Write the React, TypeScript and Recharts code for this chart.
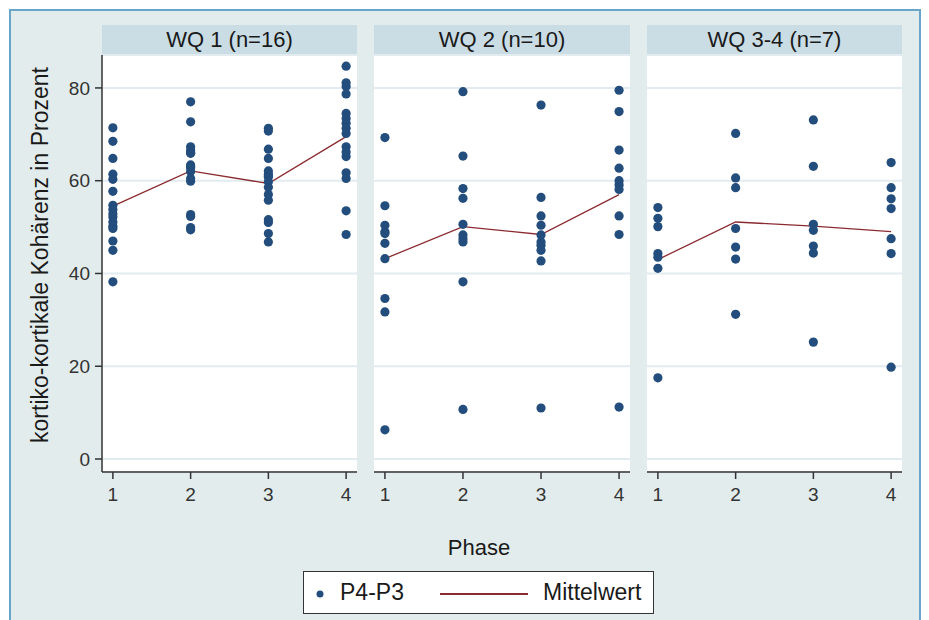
import React from 'react';
import { ComposedChart, Scatter, Line, XAxis, YAxis, CartesianGrid } from 'recharts';

const PHASES = [1, 2, 3, 4];
const Y_TICKS = [0, 20, 40, 60, 80];
const PANEL_TITLES = ['WQ 1 (n=16)', 'WQ 2 (n=10)', 'WQ 3-4 (n=7)'];

// WQ 1 (n=16), P4-P3 per phase
const wq1Phase1 = [71.4, 68.5, 64.8, 61.4, 60.3, 57.7, 54.7, 53.8, 52.9, 52.2, 51.1, 50.2, 49.7, 47.0, 45.0, 38.2];
const wq1Phase2 = [77.0, 72.7, 67.3, 66.5, 66.0, 65.9, 63.4, 63.0, 62.8, 62.0, 60.5, 59.9, 52.7, 52.3, 49.9, 49.4];
const wq1Phase3 = [71.3, 70.7, 66.8, 64.8, 62.1, 61.4, 61.0, 60.8, 59.8, 58.6, 57.0, 55.8, 51.6, 51.0, 48.6, 46.8];
const wq1Phase4 = [84.7, 81.1, 80.3, 78.7, 74.5, 73.4, 72.4, 71.3, 70.2, 67.3, 66.2, 65.2, 61.7, 60.5, 53.5, 48.4];
const wq1Mean = [54.5, 62.1, 59.4, 69.5];

// WQ 2 (n=10)
const wq2Phase1 = [69.3, 54.6, 50.4, 49.0, 48.6, 46.5, 43.2, 34.6, 31.7, 6.3];
const wq2Phase2 = [79.2, 65.3, 58.3, 56.2, 50.6, 48.3, 47.5, 46.8, 38.2, 10.7];
const wq2Phase3 = [76.3, 56.4, 52.4, 50.4, 48.3, 46.8, 46.1, 45.0, 42.7, 11.0];
const wq2Phase4 = [79.5, 74.9, 66.6, 62.7, 60.0, 59.1, 58.1, 52.4, 48.4, 11.2];
const wq2Mean = [43.2, 50.1, 48.4, 57.0];

// WQ 3-4 (n=7)
const wq3Phase1 = [54.2, 51.9, 50.1, 44.3, 43.5, 41.1, 17.5];
const wq3Phase2 = [70.2, 60.6, 58.5, 49.7, 45.7, 43.1, 31.2];
const wq3Phase3 = [73.1, 63.1, 50.6, 49.3, 45.9, 44.4, 25.2];
const wq3Phase4 = [63.9, 58.5, 56.1, 54.0, 47.5, 44.3, 19.8];
const wq3Mean = [43.0, 51.1, 50.2, 49.0];

const PANEL_VALUES = [
  [wq1Phase1, wq1Phase2, wq1Phase3, wq1Phase4],
  [wq2Phase1, wq2Phase2, wq2Phase3, wq2Phase4],
  [wq3Phase1, wq3Phase2, wq3Phase3, wq3Phase4],
];
const PANEL_MEANS = [wq1Mean, wq2Mean, wq3Mean];

const FONT = '"Liberation Sans", Arial, sans-serif';
const DOT = '#234d7c';
const MEAN = '#8b2b30';
const STRIP = '#cadde5';
const GRID = '#e2ecf0';
const TEXT = '#1a1a1a';
const TICK = '#333';

// plot area edges per panel (px)
const PANEL_BOXES = [
  { left: 102, right: 357 },
  { left: 374, right: 630 },
  { left: 647, right: 902 },
];

const Dot = (props: any) => {
  const { cx, cy } = props;
  return <circle cx={cx} cy={cy} r={4.6} fill={DOT} />;
};

const Panel = ({ idx }: { idx: number }) => {
  const box = PANEL_BOXES[idx];
  const first = idx === 0;
  const points = PANEL_VALUES[idx].flatMap((vals, i) => vals.map((v) => ({ x: PHASES[i], y: v })));
  const means = PANEL_MEANS[idx].map((v, i) => ({ x: PHASES[i], y: v }));
  const chartLeft = first ? 0 : box.left;
  const width = box.right - chartLeft;
  return (
    <>
      <div
        style={{
          position: 'absolute',
          left: box.left,
          top: 25,
          width: box.right - box.left,
          height: 29,
          background: STRIP,
          textAlign: 'center',
          fontFamily: FONT,
          fontSize: 22,
          lineHeight: '30px',
          color: TEXT,
        }}
      >
        {PANEL_TITLES[idx]}
      </div>
      <div style={{ position: 'absolute', left: chartLeft, top: 0 }}>
        <ComposedChart width={width} height={512} margin={{ top: 55, right: 0, bottom: 0, left: 0 }}>
          <CartesianGrid horizontal vertical={false} fill="#ffffff" stroke={GRID} strokeWidth={2} strokeOpacity={1} />
          <XAxis
            type="number"
            dataKey="x"
            domain={[0.86, 4.14]}
            ticks={PHASES}
            allowDataOverflow
            height={40}
            tickSize={7}
            tickMargin={9}
            stroke="#333"
            strokeWidth={1.5}
            tick={{ fill: TICK, fontSize: 19, fontFamily: FONT }}
          />
          <YAxis
            type="number"
            dataKey="y"
            domain={[-2.8, 87.1]}
            ticks={Y_TICKS}
            allowDataOverflow
            hide={!first}
            width={102}
            tickSize={7}
            tickMargin={5}
            stroke="#333"
            strokeWidth={1.5}
            tick={{ fill: TICK, fontSize: 19, fontFamily: FONT }}
          />
          <Scatter data={points} dataKey="y" shape={<Dot />} isAnimationActive={false} />
          <Line
            data={means}
            dataKey="y"
            type="linear"
            stroke={MEAN}
            strokeWidth={1.3}
            dot={false}
            activeDot={false}
            isAnimationActive={false}
          />
        </ComposedChart>
      </div>
    </>
  );
};

export default function App() {
  return (
    <div style={{ position: 'absolute', left: 0, top: 0, width: 929, height: 620, background: '#fff', overflow: 'hidden' }}>
      <div
        style={{
          position: 'absolute',
          left: 9,
          top: 9,
          width: 908,
          height: 640,
          background: '#e2ecec',
          border: '2px solid #6aa4c8',
        }}
      />
      <Panel idx={0} />
      <Panel idx={1} />
      <Panel idx={2} />
      <div style={{ position: 'absolute', left: 40, top: 255, width: 0, height: 0 }}>
        <div
          style={{
            position: 'absolute',
            transform: 'translate(-50%, -50%) rotate(-90deg)',
            whiteSpace: 'nowrap',
            fontFamily: FONT,
            fontSize: 23,
            color: TEXT,
          }}
        >
          kortiko-kortikale Kohärenz in Prozent
        </div>
      </div>
      <div
        style={{
          position: 'absolute',
          left: 379,
          width: 200,
          top: 535,
          textAlign: 'center',
          fontFamily: FONT,
          fontSize: 22,
          color: TEXT,
        }}
      >
        Phase
      </div>
      <div
        style={{
          position: 'absolute',
          left: 303,
          top: 571,
          width: 349,
          height: 41,
          background: '#fff',
          border: '1px solid #333',
          fontFamily: FONT,
          fontSize: 23,
          color: TEXT,
        }}
      >
        <svg style={{ position: 'absolute', left: 0, top: 0 }} width={349} height={41}>
          <circle cx={16} cy={22} r={3.5} fill={DOT} />
          <line x1={136} x2={224} y1={22} y2={22} stroke={MEAN} strokeWidth={2} />
        </svg>
        <span style={{ position: 'absolute', left: 36, top: 7 }}>P4-P3</span>
        <span style={{ position: 'absolute', left: 239, top: 7 }}>Mittelwert</span>
      </div>
    </div>
  );
}
